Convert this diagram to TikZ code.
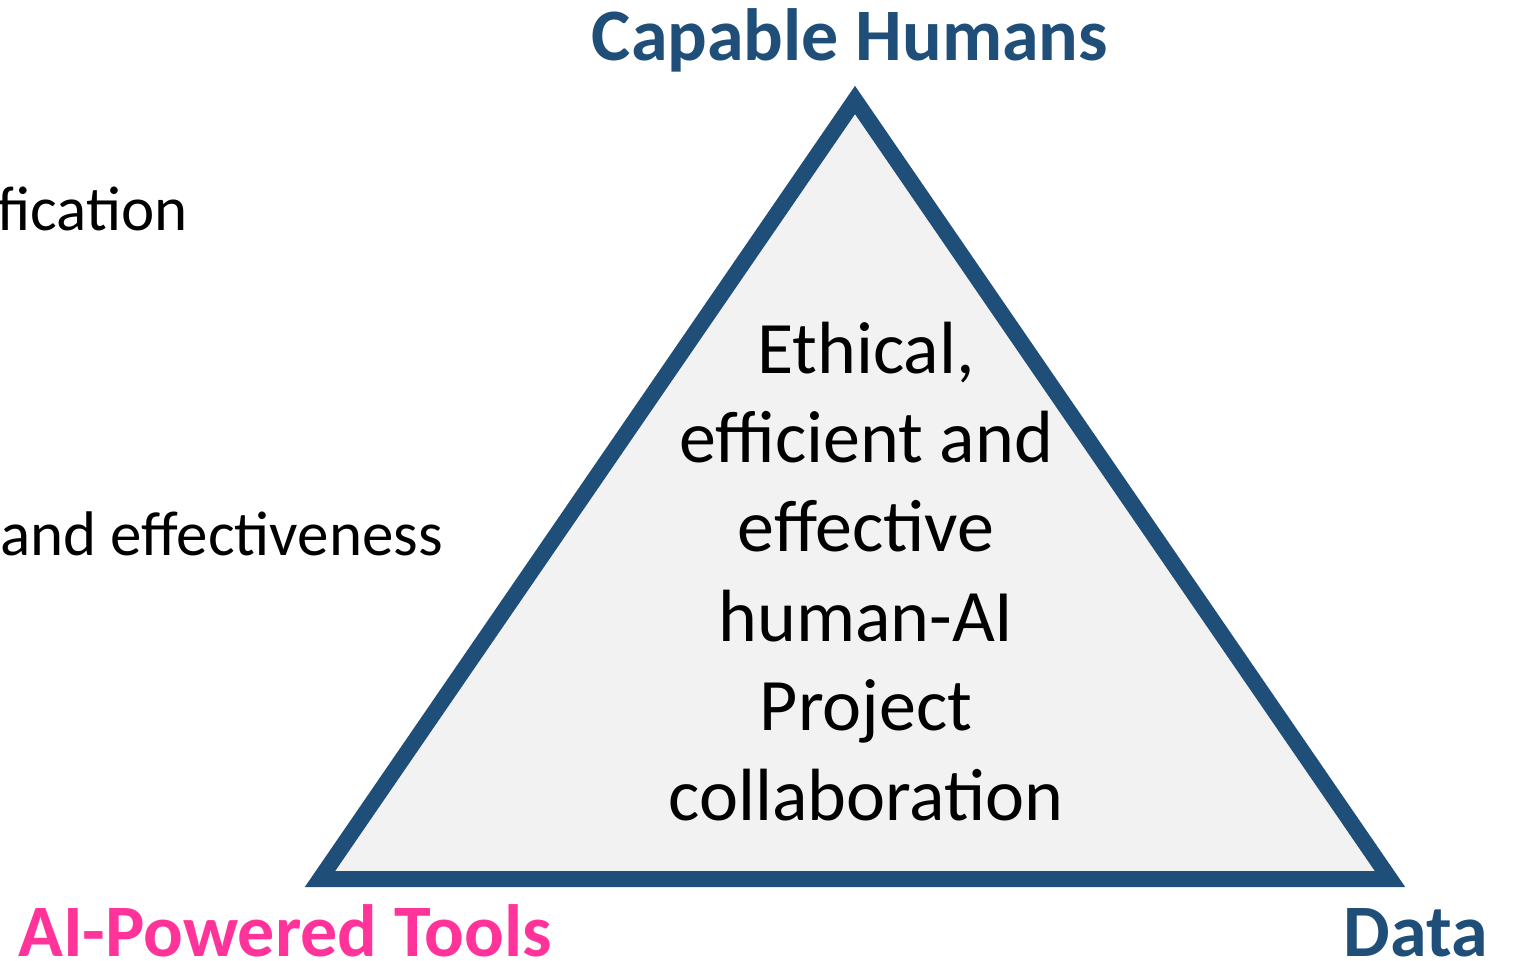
\documentclass[tikz,border=0pt]{standalone}
\usepackage{fontspec}
\setmainfont{Carlito}
\definecolor{triblue}{HTML}{1F4E79}
\definecolor{tripink}{HTML}{FF3399}
\definecolor{trifill}{HTML}{F2F2F2}
\tikzset{
  corner/.style={font=\fontsize{74}{90}\selectfont\bfseries, inner sep=0pt, anchor=base},
  side/.style={font=\fontsize{63}{70}\selectfont, inner sep=0pt, anchor=base east, text=black},
  middle/.style={font=\fontsize{74}{89.4}\selectfont, inner sep=0pt, align=center, text=black}
}
\begin{document}
\begin{tikzpicture}[x=1pt,y=-1pt]
\useasboundingbox (0,0) rectangle (1516,961);
\coordinate (top) at (855,100);
\coordinate (bl) at (320,879);
\coordinate (br) at (1390,879);
\draw[line width=16pt, draw=triblue, fill=trifill, line join=miter] (top) -- (bl) -- (br) -- cycle;
\node[corner, text=triblue] (humans) at (850,60) {Capable Humans};
\node[corner, text=tripink, anchor=base west] (tools) at (18,956) {AI-Powered Tools};
\node[corner, text=triblue, anchor=base east] (data) at (1488,956) {Data};
\node[side] (t1) at (188,230) {fication};
\node[side] (t2) at (443,555) {and effectiveness};
\node[middle, anchor=base] (core) at (866,820) {Ethical,\\efficient and\\effective\\human-AI\\Project\\collaboration};
\end{tikzpicture}
\end{document}
